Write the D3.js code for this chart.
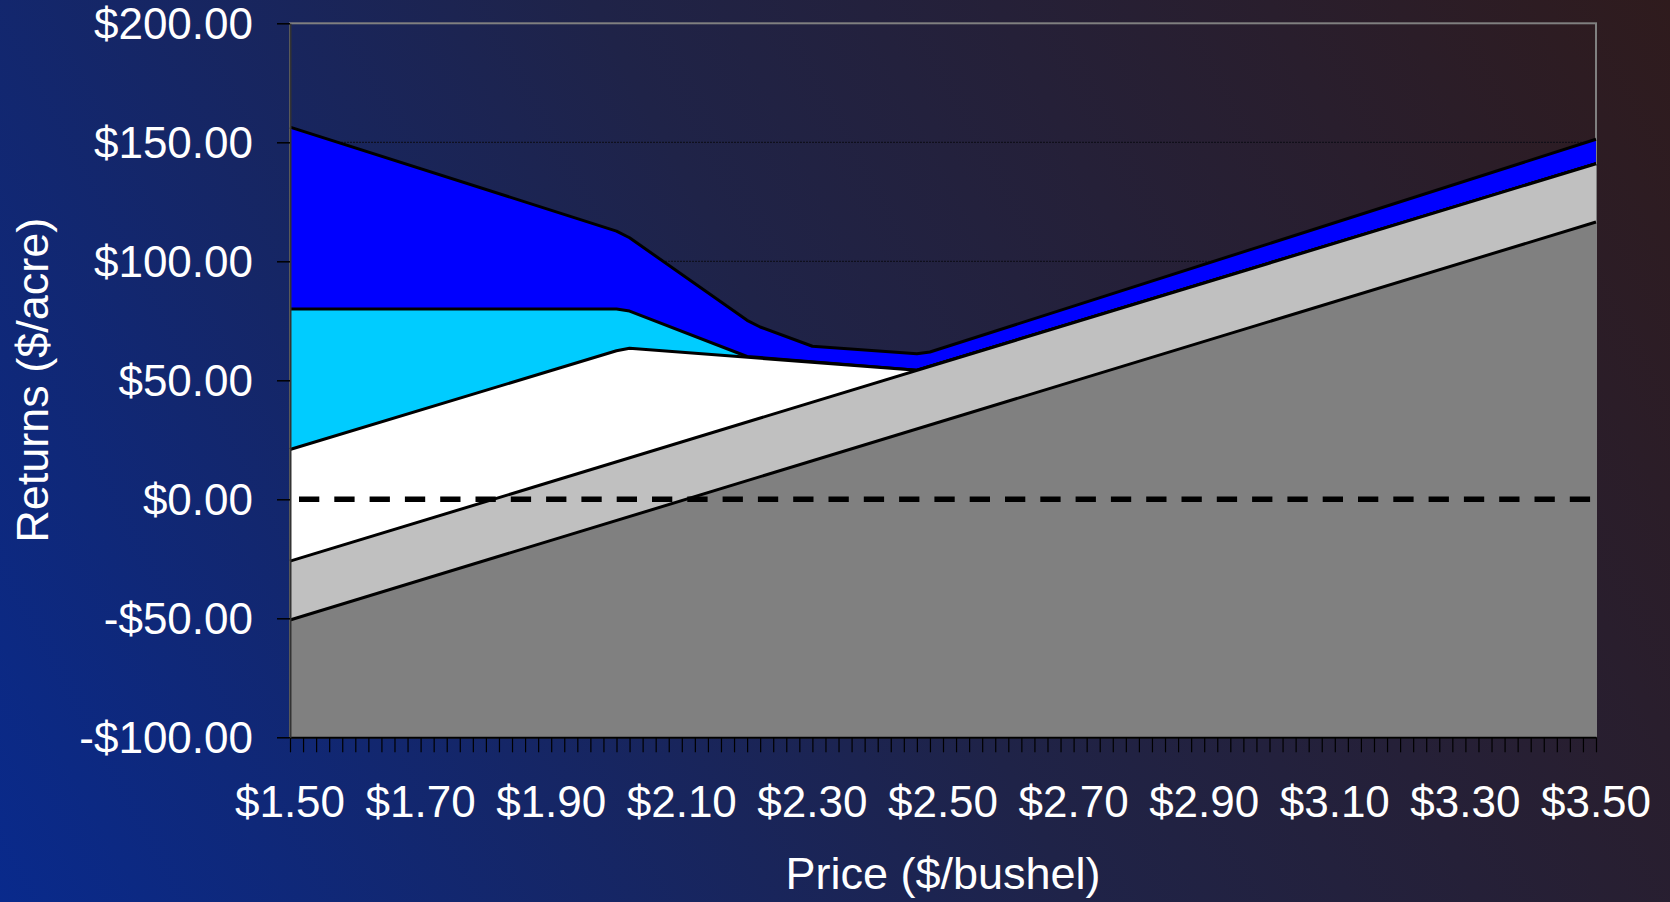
<!DOCTYPE html>
<html>
<head>
<meta charset="utf-8">
<script src="https://cdn.jsdelivr.net/npm/d3@7"></script>
<style>
  html, body { margin: 0; padding: 0; overflow: hidden; background: #1f2348; }
  svg text { font-family: "Liberation Sans", Arial, sans-serif; fill: #ffffff; }
</style>
</head>
<body>
<svg id="chart" width="1670" height="902"></svg>
<script>
// Returns per acre at the price breakpoints of each marketing alternative
const grayPrices = [1.50, 3.50];
const grayReturns = [-50.7, 116.5];

const lightGrayPrices = [1.50, 3.50];
const lightGrayReturns = [-26.0, 141.0];

const whitePrices = [1.50, 2.00, 2.02, 2.46, 3.50];
const whiteReturns = [20.9, 62.4, 63.5, 54.2, 141.0];

const cyanPrices = [1.50, 2.00, 2.02, 2.20, 2.46, 3.50];
const cyanReturns = [80.0, 80.0, 79.1, 60.0, 54.2, 141.0];

const bluePrices = [1.50, 2.00, 2.02, 2.20, 2.22, 2.30, 2.46, 2.48, 3.50];
const blueReturns = [156.4, 112.7, 109.9, 75.2, 72.4, 64.3, 61.2, 61.9, 151.3];

// break-even reference line
const zeroPrices = [1.50, 3.50];
const zeroReturns = [0, 0];

// axis ticks
const xTickValues = [1.50, 1.70, 1.90, 2.10, 2.30, 2.50, 2.70, 2.90, 3.10, 3.30, 3.50];
const xTickLabels = ["$1.50", "$1.70", "$1.90", "$2.10", "$2.30", "$2.50", "$2.70", "$2.90", "$3.10", "$3.30", "$3.50"];
const xMinorStep = 0.02;
const yTickValues = [-100, -50, 0, 50, 100, 150, 200];
const yTickLabels = ["-$100.00", "-$50.00", "$0.00", "$50.00", "$100.00", "$150.00", "$200.00"];

const W = 1670, H = 902;
const plot = { left: 290, right: 1596, top: 23.3, bottom: 737.3 };

const svg = d3.select("#chart");
const defs = svg.append("defs");

// diagonal backdrop: deep blue lower-left to dark maroon upper-right
const bg = defs.append("linearGradient")
  .attr("id", "bgGrad")
  .attr("gradientUnits", "userSpaceOnUse")
  .attr("x1", 0).attr("y1", H).attr("x2", W).attr("y2", 0);
bg.append("stop").attr("offset", 0).attr("stop-color", "#092a8c");
bg.append("stop").attr("offset", 0.5).attr("stop-color", "#1f2348");
bg.append("stop").attr("offset", 1).attr("stop-color", "#2f1b1d");
svg.append("rect").attr("width", W).attr("height", H).attr("fill", "url(#bgGrad)");

const x = d3.scaleLinear().domain([1.5, 3.5]).range([plot.left, plot.right]);
const y = d3.scaleLinear().domain([-100, 200]).range([plot.bottom, plot.top]);

// horizontal gridlines
svg.append("g")
  .selectAll("line")
  .data(yTickValues.slice(1, -1))
  .join("line")
  .attr("x1", plot.left).attr("x2", plot.right)
  .attr("y1", d => y(d)).attr("y2", d => y(d))
  .attr("stroke", "#0c0c14")
  .attr("stroke-width", 1)
  .attr("stroke-dasharray", "2 1");

// plot frame
svg.append("rect")
  .attr("x", plot.left).attr("y", plot.top)
  .attr("width", plot.right - plot.left)
  .attr("height", plot.bottom - plot.top)
  .attr("fill", "none")
  .attr("stroke", "#808080")
  .attr("stroke-width", 2);

// overlapping areas, drawn from the widest band to the narrowest
const series = [
  { prices: bluePrices, values: blueReturns, fill: "#0000ff" },
  { prices: cyanPrices, values: cyanReturns, fill: "#00ccff" },
  { prices: whitePrices, values: whiteReturns, fill: "#ffffff" },
  { prices: lightGrayPrices, values: lightGrayReturns, fill: "#c0c0c0" },
  { prices: grayPrices, values: grayReturns, fill: "#808080" }
];

const area = d3.area()
  .x(d => x(d[0]))
  .y0(y(-100))
  .y1(d => y(d[1]));
const topLine = d3.line()
  .x(d => x(d[0]))
  .y(d => y(d[1]));

const areas = svg.append("g");
series.forEach(s => {
  const pts = d3.zip(s.prices, s.values);
  areas.append("path").attr("d", area(pts)).attr("fill", s.fill).attr("stroke", "none");
  areas.append("path").attr("d", topLine(pts))
    .attr("fill", "none").attr("stroke", "#000").attr("stroke-width", 3)
    .attr("stroke-linejoin", "round");
});

// dashed zero line
svg.append("path")
  .attr("d", topLine(d3.zip(zeroPrices, zeroReturns)))
  .attr("fill", "none")
  .attr("stroke", "#000")
  .attr("stroke-width", 5.5)
  .attr("stroke-dasharray", "20.3 15")
  .attr("stroke-dashoffset", 26.3);

// x axis: minor tick at every 2 cents, labels every 20 cents
const nMinor = Math.round((3.5 - 1.5) / xMinorStep);
const minorTicks = d3.range(nMinor + 1).map(i => 1.5 + i * xMinorStep);
const xAxis = d3.axisBottom(x)
  .tickValues(minorTicks)
  .tickSize(15)
  .tickSizeOuter(0)
  .tickFormat(() => "");
const gx = svg.append("g").attr("transform", `translate(0,${plot.bottom})`).call(xAxis);
gx.select(".domain").attr("stroke", "#000").attr("stroke-width", 2);
gx.selectAll(".tick line").attr("stroke", "#000").attr("stroke-width", 1.2);

svg.append("g")
  .selectAll("text")
  .data(xTickValues)
  .join("text")
  .attr("x", d => x(d))
  .attr("y", plot.bottom + 80)
  .attr("text-anchor", "middle")
  .attr("font-size", 44)
  .text((d, i) => xTickLabels[i]);

// y axis
const yAxis = d3.axisLeft(y)
  .tickValues(yTickValues)
  .tickSize(13)
  .tickSizeOuter(0)
  .tickFormat("");
const gy = svg.append("g").attr("transform", `translate(${plot.left},0)`).call(yAxis);
gy.select(".domain").attr("stroke", "#333").attr("stroke-width", 2);
gy.selectAll(".tick line").attr("stroke", "#000").attr("stroke-width", 1.5);

svg.append("g")
  .selectAll("text")
  .data(yTickValues)
  .join("text")
  .attr("x", 253)
  .attr("y", d => y(d) + 16)
  .attr("text-anchor", "end")
  .attr("font-size", 44)
  .text((d, i) => yTickLabels[i]);

// axis titles
svg.append("text")
  .attr("x", (plot.left + plot.right) / 2)
  .attr("y", 889)
  .attr("text-anchor", "middle")
  .attr("font-size", 45)
  .text("Price ($/bushel)");

svg.append("text")
  .attr("transform", `translate(48,${(plot.top + plot.bottom) / 2}) rotate(-90)`)
  .attr("text-anchor", "middle")
  .attr("font-size", 45)
  .text("Returns ($/acre)");
</script>
</body>
</html>
